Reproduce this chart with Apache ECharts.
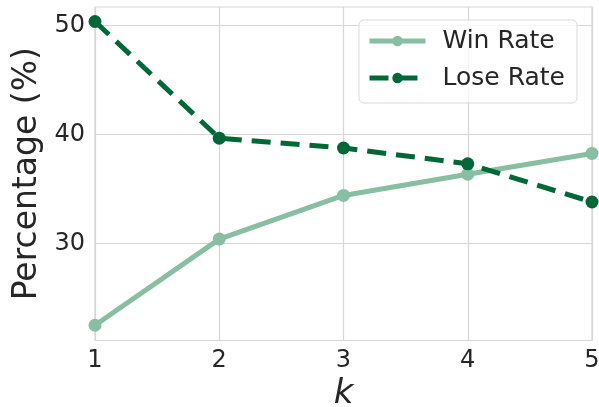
<!DOCTYPE html>
<html><head><meta charset="utf-8">
<script src="https://cdn.jsdelivr.net/npm/echarts@6/dist/echarts.min.js"></script>
<style>html,body{margin:0;padding:0;background:#fff}#c{width:599px;height:407px}</style>
</head><body><div id="c"></div>
<script>
const kValues = [1, 2, 3, 4, 5];
const winRate = [22.5, 30.4, 34.4, 36.35, 38.25];
const loseRate = [50.35, 39.65, 38.75, 37.3, 33.8];
const yTicks = [30, 40, 50];
const xTicks = [1, 2, 3, 4, 5];
const seriesNames = ['Win Rate', 'Lose Rate'];

const FONT = 'DejaVu Sans';
const chart = echarts.init(document.getElementById('c'), null, {renderer: 'canvas'});
chart.setOption({
  animation: false,
  backgroundColor: '#ffffff',
  grid: {left: 95, right: 7, top: 7, bottom: 66.5, show: true, borderColor: '#d6d6d6', borderWidth: 1.2, backgroundColor: 'transparent', outerBoundsMode: 'none', containLabel: false},
  legend: {
    left: 359, top: 20, orient: 'vertical',
    itemWidth: 56, itemHeight: 13, itemGap: 7,
    padding: [6, 12, 10, 8],
    backgroundColor: 'rgba(255,255,255,0.8)', borderColor: '#d9d9d9', borderWidth: 1, borderRadius: 5,
    lineStyle: {width: 5},
    textStyle: {fontFamily: FONT, fontSize: 25, color: '#262626', lineHeight: 30, padding: [0, 0, 0, 12]},
    data: seriesNames
  },
  xAxis: {
    type: 'value', min: 1, max: 5, interval: 1,
    name: 'k', nameLocation: 'middle', nameGap: 34,
    nameTextStyle: {fontFamily: FONT, fontSize: 34, fontStyle: 'italic', color: '#262626'},
    axisLine: {show: false}, axisTick: {show: false},
    axisLabel: {fontFamily: FONT, fontSize: 24, color: '#262626', margin: 8,
      customValues: xTicks},
    splitLine: {show: true, lineStyle: {color: '#d6d6d6', width: 1.2}}
  },
  yAxis: {
    type: 'value', min: 21.1, max: 51.68,
    name: 'Percentage (%)', nameLocation: 'middle', nameGap: 48, nameRotate: 90,
    nameTextStyle: {fontFamily: FONT, fontSize: 33, color: '#262626'},
    axisLine: {show: false},
    axisTick: {show: false, customValues: yTicks},
    axisLabel: {fontFamily: FONT, fontSize: 24, color: '#262626', margin: 10, customValues: yTicks},
    splitLine: {show: true, lineStyle: {color: '#d6d6d6', width: 1.2}}
  },
  series: [
    {
      name: seriesNames[0], type: 'line',
      data: kValues.map((k, i) => [k, winRate[i]]),
      symbol: 'circle', symbolSize: 13,
      itemStyle: {color: '#88bea2'},
      lineStyle: {color: '#88bea2', width: 5},
      z: 2
    },
    {
      name: seriesNames[1], type: 'line',
      data: kValues.map((k, i) => [k, loseRate[i]]),
      symbol: 'circle', symbolSize: 13,
      itemStyle: {color: '#006837'},
      lineStyle: {color: '#006837', width: 5, type: [19, 10]},
      z: 3
    }
  ]
});
</script></body></html>
